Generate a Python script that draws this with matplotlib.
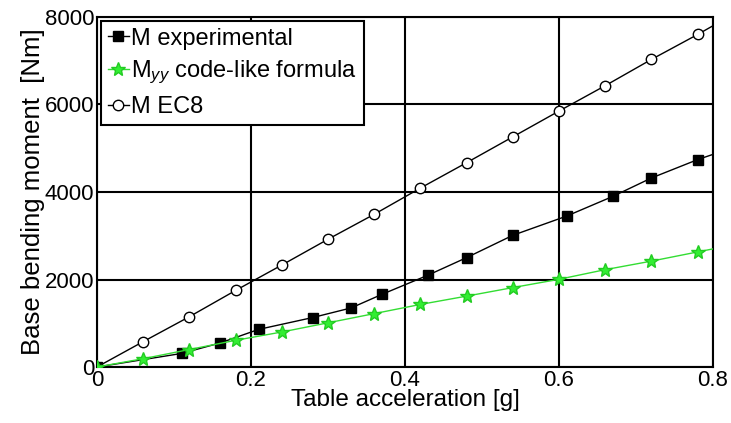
import matplotlib
matplotlib.use("Agg")
import matplotlib.pyplot as plt
import numpy as np

plt.rcParams['font.family'] = ['Liberation Sans', 'DejaVu Sans']
plt.rcParams['mathtext.fontset'] = 'custom'
plt.rcParams['mathtext.rm'] = 'Liberation Sans'
plt.rcParams['mathtext.it'] = 'Liberation Sans:italic'

# values; last point (0.8) is line end without marker
acc_ec8 = [0, 0.06, 0.12, 0.18, 0.24, 0.30, 0.36, 0.42, 0.48, 0.54, 0.60, 0.66, 0.72, 0.78, 0.80]
m_ec8 = [0, 580, 1150, 1750, 2330, 2920, 3490, 4090, 4670, 5260, 5850, 6430, 7030, 7600, 7800]

acc_exp = [0, 0.11, 0.16, 0.21, 0.28, 0.33, 0.37, 0.43, 0.48, 0.54, 0.61, 0.67, 0.72, 0.78, 0.80]
m_exp = [0, 310, 550, 860, 1130, 1350, 1660, 2100, 2500, 3010, 3450, 3900, 4320, 4740, 4860]

acc_code = [0, 0.06, 0.12, 0.18, 0.24, 0.30, 0.36, 0.42, 0.48, 0.54, 0.60, 0.66, 0.72, 0.78, 0.80]
m_code = [0, 190, 400, 610, 800, 1010, 1220, 1430, 1620, 1815, 2005, 2225, 2420, 2630, 2700]

fig = plt.figure(figsize=(7.31, 4.23), dpi=100)
ax = fig.add_axes([97/731, 1 - 367/423, 616/731, 350/423])

mk = list(range(len(acc_exp) - 1))
ax.plot(acc_exp, m_exp, '-', color='black', lw=1, marker='s', ms=7.5,
        mfc='black', mec='black', markevery=mk, label='M experimental', zorder=4)
ax.plot(acc_code, m_code, '-', color='#33dd33', lw=1, marker='*', ms=10,
        mfc='#33ee33', mec='#22cc22', markevery=mk,
        label=r'M$_{\mathit{yy}}$ code-like formula', zorder=5)
ax.plot(acc_ec8, m_ec8, '-', color='black', lw=1, marker='o', ms=7.5,
        mfc='white', mec='black', markevery=mk, label='M EC8', zorder=3)

ax.set_xlim(0, 0.8)
ax.set_ylim(0, 8000)
ax.set_xticks([0, 0.2, 0.4, 0.6, 0.8])
ax.set_xticklabels(['0', '0.2', '0.4', '0.6', '0.8'])
ax.set_yticks([0, 2000, 4000, 6000, 8000])
ax.grid(True, color='black', lw=1.5)
ax.set_axisbelow(True)
for s in ax.spines.values():
    s.set_linewidth(1.5)
ax.tick_params(direction='in', length=0, labelsize=16, pad=2)

ax.set_xlabel('Table acceleration [g]', fontsize=17.5, labelpad=-1)
ax.set_ylabel('Base bending moment  [Nm]', fontsize=18.5, labelpad=0)

leg = ax.legend(loc='upper left', fontsize=17, handlelength=0.9, handletextpad=0.1,
                borderaxespad=0.15, borderpad=0.3, labelspacing=0.4,
                fancybox=False, framealpha=1, edgecolor='black')
leg.get_frame().set_linewidth(1.5)

fig.savefig('out.png', dpi=100)
